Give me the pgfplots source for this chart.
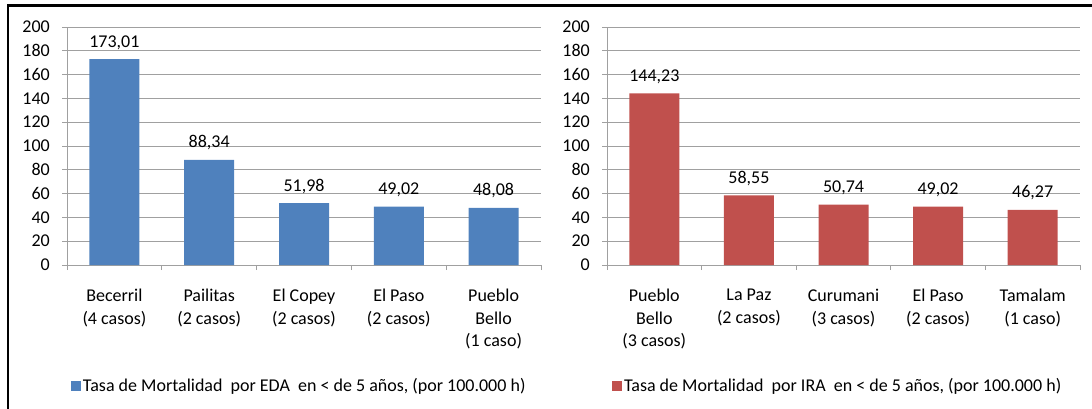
\documentclass[border=0pt]{standalone}
\usepackage{fontspec}
\setmainfont{Carlito}
\usepackage{pgfplots}
\pgfplotsset{compat=1.18}
\definecolor{eda}{HTML}{4F81BD}
\definecolor{ira}{HTML}{C0504D}
\definecolor{gridc}{RGB}{160,160,160}
\newcommand{\cf}{\fontsize{18}{22.5}\selectfont}
\pgfplotsset{
  mybar/.style={
    scale only axis, width=474pt, height=238pt, anchor=south west,
    ymin=0, ymax=200, ytick={0,20,...,200},
    xmin=-0.5, xmax=4.5,
    xtick={-0.5,0.5,1.5,2.5,3.5,4.5},
    x tick label as interval,
    axis x line*=bottom, axis y line*=left,
    axis line style={gridc, line width=1pt},
    ymajorgrids, grid style={gridc, line width=1pt},
    tick style={gridc, line width=1pt},
    major tick length=5pt, tick align=outside,
    ticklabel style={font=\cf, inner sep=0pt},
    /pgf/number format/assume math mode=true,
    yticklabel style={anchor=east, xshift=-12pt},
    xticklabel style={align=center, anchor=north, yshift=-19pt},
    ybar, bar width=50pt,
    nodes near coords={\pgfmathprintnumber[fixed,fixed zerofill,precision=2,use comma,assume math mode=true]{\pgfplotspointmeta}},
    nodes near coords style={anchor=base, yshift=12pt, inner sep=0pt, font=\cf, text=black},
    legend style={draw=none, fill=none, inner sep=0pt, outer sep=0pt, anchor=west,
      nodes={inner sep=0pt, inner xsep=2pt}, font=\cf},
    clip=false,
  }
}
\begin{document}
\begin{tikzpicture}
\useasboundingbox (0,0) rectangle (1092pt,408pt);
\draw[line width=2.5pt] (8pt,-5pt) -- (8pt,402.5pt) -- (1100pt,402.5pt);
\begin{axis}[mybar, at={(67pt,143pt)},
  xticklabels={{Becerril\\(4 casos)},{Pailitas\\(2 casos)},{El Copey\\(2 casos)},{El Paso\\(2 casos)},{Pueblo\\Bello\\(1 caso)}},
  legend style={at={(axis description cs:0.0084,-0.508)}}]
\addplot[fill=eda, draw=none, legend image code/.code={\fill[eda] (0pt,-5pt) rectangle (10pt,5pt);}]
  coordinates {(0,173.01) (1,88.34) (2,51.98) (3,49.02) (4,48.08)};
\addlegendentry{Tasa de Mortalidad\ \ por EDA\ \ en < de 5 años, (por 100.000 h)}
\end{axis}
\begin{axis}[mybar, at={(607pt,143pt)}, width=473pt,
  xticklabels={{Pueblo\\Bello\\(3 casos)},{La Paz\\(2 casos)},{Curumani\\(3 casos)},{El Paso\\(2 casos)},{Tamalam\\(1 caso)}},
  legend style={at={(axis description cs:0.0106,-0.508)}}]
\addplot[fill=ira, draw=none, legend image code/.code={\fill[ira] (0pt,-5pt) rectangle (10pt,5pt);}]
  coordinates {(0,144.23) (1,58.55) (2,50.74) (3,49.02) (4,46.27)};
\addlegendentry{Tasa de Mortalidad\ \ por IRA\ \ en < de 5 años, (por 100.000 h)}
\end{axis}
\end{tikzpicture}
\end{document}
